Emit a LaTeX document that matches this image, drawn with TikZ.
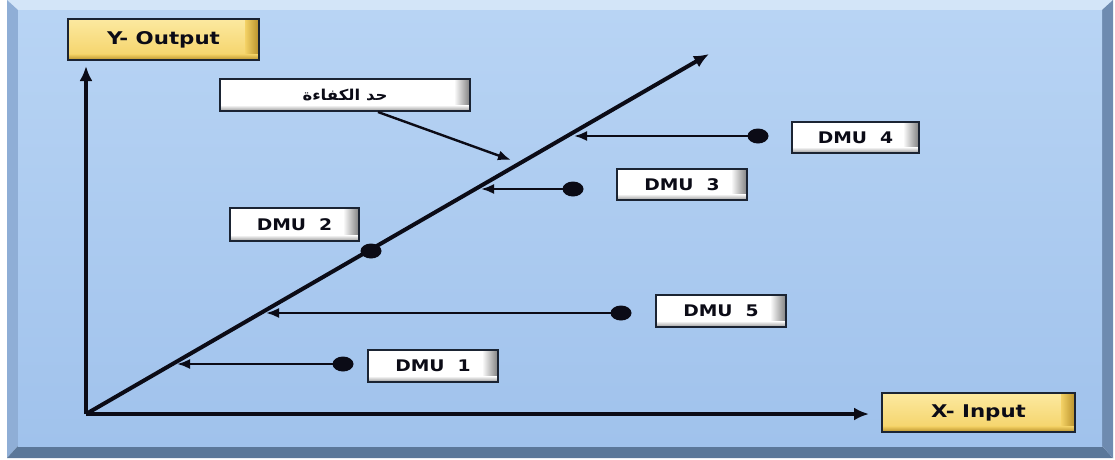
\documentclass[tikz,border=0pt]{standalone}
\usepackage{fontspec}
\usetikzlibrary{arrows.meta,shapes.geometric}
\TeXXeTstate=1
\newfontfamily\lblfont[FakeStretch=1.17]{DejaVu Sans}
\newfontfamily\goldfont[FakeStretch=1.22]{DejaVu Sans}
\newfontfamily\arabicfont[Script=Arabic,FakeStretch=1.1]{DejaVu Sans}
\definecolor{edge}{HTML}{1B2433}
\definecolor{ink}{HTML}{0B0B16}
\definecolor{goldA}{HTML}{FCE9A0}
\definecolor{goldB}{HTML}{F4D266}
\definecolor{goldC}{HTML}{B8902A}
\definecolor{panelTop}{HTML}{B8D4F4}
\definecolor{panelBot}{HTML}{A0C2EC}
\definecolor{bevTop}{HTML}{D3E5F8}
\definecolor{bevLeft}{HTML}{8FAED6}
\definecolor{bevBot}{HTML}{5B7799}
\definecolor{bevRight}{HTML}{6E8BB0}
\tikzset{
  btn/.style={draw=edge, line width=2pt, inner sep=0pt, text=ink,
    font=\lblfont\bfseries\fontsize{16}{19}\selectfont,
    path picture={
      \fill[white] (path picture bounding box.south west) rectangle (path picture bounding box.north east);
      \shade[left color=white, right color=black!50] ([xshift=-16pt]path picture bounding box.north east) rectangle (path picture bounding box.south east);
      \shade[top color=white, bottom color=black!40] (path picture bounding box.south west) rectangle ([yshift=6pt]path picture bounding box.south east);
    }},
  goldbtn/.style={draw=edge, line width=2pt, inner sep=0pt, text=ink,
    font=\goldfont\bfseries\fontsize{17.5}{20}\selectfont,
    path picture={
      \shade[top color=goldA, bottom color=goldB] (path picture bounding box.south west) rectangle (path picture bounding box.north east);
      \shade[left color=goldB, right color=goldC] ([xshift=-14pt]path picture bounding box.north east) rectangle (path picture bounding box.south east);
      \shade[top color=goldB, bottom color=goldC] (path picture bounding box.south west) rectangle ([yshift=6pt]path picture bounding box.south east);
    }},
  dot/.style={ellipse, fill=ink, minimum width=21pt, minimum height=15pt, inner sep=0pt},
  axis/.style={draw=ink, line width=4pt, -{Latex[length=15pt,width=13pt]}},
  proj/.style={draw=ink, line width=2.4pt, -{Latex[length=13pt,width=10pt]}},
}
\begin{document}
\begin{tikzpicture}[x=1pt,y=-1pt]
\useasboundingbox (0,0) rectangle (1115,459);
% panel
\fill[white] (0,0) rectangle (1115,459);
\fill[bevTop] (7,0) -- (1113,0) -- (1102,10) -- (18,10) -- cycle;
\fill[bevLeft] (7,0) -- (18,10) -- (18,446) -- (7,458) -- cycle;
\fill[bevBot] (7,458) -- (18,446) -- (1102,446) -- (1113,458) -- cycle;
\fill[bevRight] (1113,0) -- (1102,10) -- (1102,446) -- (1113,458) -- cycle;
\shade[top color=panelTop, bottom color=panelBot] (18,10) rectangle (1102,446);

% axes
\coordinate (O) at (86,414);
\coordinate (Ytip) at (86,66);
\coordinate (Xtip) at (869,414);
\coordinate (Ftip) at (709,54);
\draw[axis] (O) -- (Ytip);
\draw[axis] (O) -- (Xtip);
\draw[axis] (O) -- (Ftip);

% labels
\node[goldbtn, minimum width=191pt, minimum height=41pt] (yout) at (163.5,39.5) {Y- Output};
\node[goldbtn, minimum width=193pt, minimum height=39pt] (xin) at (978.5,412.5) {X- Input};
\node[btn, minimum width=250pt, minimum height=32pt, font=\arabicfont\bfseries\fontsize{15}{17}\selectfont] (front) at (345,95) {\beginR حد الكفاءة\endR};

\node[btn, minimum width=127pt, minimum height=31pt] (dmu4) at (855.5,137.5) {DMU\ \ 4};
\node[btn, minimum width=130pt, minimum height=31pt] (dmu3) at (682,184.5) {DMU\ \ 3};
\node[btn, minimum width=129pt, minimum height=33pt] (dmu2) at (294.5,224.5) {DMU\ \ 2};
\node[btn, minimum width=130pt, minimum height=32pt] (dmu5) at (721,311) {DMU\ \ 5};
\node[btn, minimum width=130pt, minimum height=32pt] (dmu1) at (433,366) {DMU\ \ 1};

% dots
\node[dot] (d4) at (758,136) {};
\node[dot] (d3) at (573,189) {};
\node[dot] (d2) at (371,251) {};
\node[dot] (d5) at (621,313) {};
\node[dot] (d1) at (343,364) {};

% projections
\coordinate (p4) at (574,136);
\coordinate (p3) at (481,189);
\coordinate (p5) at (266,313);
\coordinate (p1) at (177,364);
\draw[proj] (d4.center) -- (p4);
\draw[proj] (d3.center) -- (p3);
\draw[proj] (d5.center) -- (p5);
\draw[proj] (d1.center) -- (p1);

% callout
\coordinate (cs) at ([xshift=33pt]front.south);
\coordinate (ct) at (511,160);
\draw[proj] (cs) -- (ct);
\end{tikzpicture}
\end{document}
